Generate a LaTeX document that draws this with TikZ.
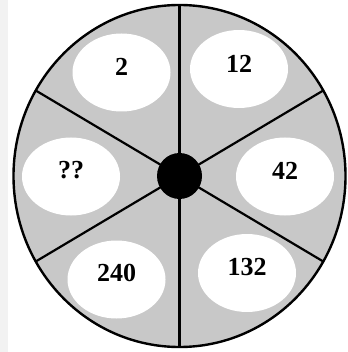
\documentclass[tikz,border=0pt]{standalone}
\usepackage{fontspec}
\setmainfont{Liberation Serif}
\usetikzlibrary{shapes.geometric}
\definecolor{wheelgray}{RGB}{200,200,200}
\definecolor{stripgray}{RGB}{242,242,242}
\tikzset{
  oval/.style={ellipse, fill=white, draw=none, minimum width=98pt, minimum height=78pt, inner sep=0pt},
  num/.style={font=\fontsize{26}{28}\selectfont\bfseries, inner sep=0pt},
  spoke/.style={line width=2.2pt},
  rim/.style={line width=2.4pt}
}
\begin{document}
\begin{tikzpicture}[x=1pt,y=-1pt]
\useasboundingbox (0,0) rectangle (347,352);
\fill[white] (0,0) rectangle (347,352);
\fill[stripgray] (0,0) rectangle (8,352);
% wheel
\coordinate (c) at (179.5,176);
\fill[wheelgray] (c) ellipse [x radius=166, y radius=171];
\path (c) ++(0,-171) coordinate (p90);
\path (c) ++(0,171) coordinate (p270);
\path (c) ++(143.76,-85.5) coordinate (p30);
\path (c) ++(-143.76,-85.5) coordinate (p150);
\path (c) ++(-143.76,85.5) coordinate (p210);
\path (c) ++(143.76,85.5) coordinate (p330);
\foreach \p in {p90,p270,p30,p150,p210,p330} \draw[spoke] (c) -- (\p);
% ovals
\node[oval] (o2) at (121.5,72.5) {};
\node[oval] (o12) at (239,69) {};
\node[oval] (oq) at (71,176.5) {};
\node[oval] (o42) at (285,176.5) {};
\node[oval] (o240) at (116.5,279.5) {};
\node[oval] (o132) at (247,273) {};
\node[num] (t2) at ([yshift=6pt]o2.center) {2};
\node[num] (t12) at ([yshift=5pt]o12.center) {12};
\node[num] (tq) at ([yshift=6pt]oq.center) {??};
\node[num] (t42) at ([yshift=6pt]o42.center) {42};
\node[num] (t240) at ([yshift=7pt]o240.center) {240};
\node[num] (t132) at ([yshift=6pt]o132.center) {132};
% rim and hub
\draw[rim] (c) ellipse [x radius=166, y radius=171];
\fill[black] (c) ellipse [x radius=22.5, y radius=23];
\end{tikzpicture}
\end{document}
